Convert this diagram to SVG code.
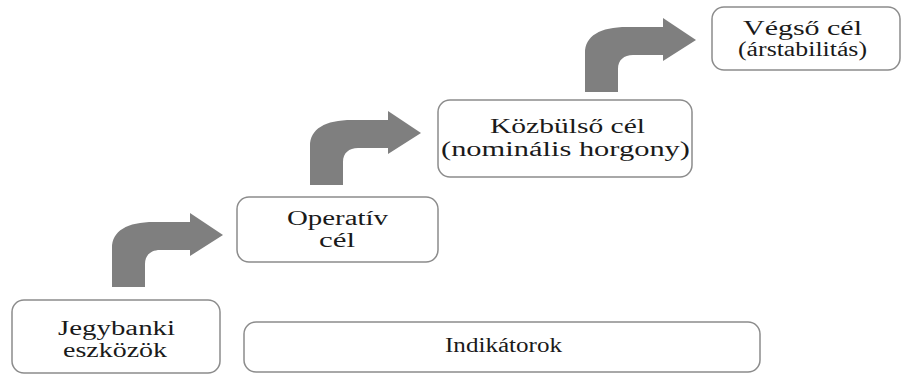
<svg xmlns="http://www.w3.org/2000/svg" width="903" height="376" viewBox="0 0 903 376">
<style>
.box{fill:#fff;stroke:#8c8c8c;stroke-width:1.5}
.t{font-family:"Liberation Serif","Times New Roman",serif;font-size:20px;fill:#1a1a1a}
.arr{fill:#7f7f7f}
</style>
<defs>
<path id="bent" d="M112,287 V248 C112,231 127,222 154,222 H190 V213 L223,235 L190,256 V250 H160 C151,250 145,255 145,264 V287 Z"/>
</defs>
<rect width="903" height="376" fill="#fff"/>
<g id="connectors" class="arr">
<use href="#bent"/>
<use href="#bent" transform="translate(198,-102)"/>
<use href="#bent" transform="translate(473,-195)"/>
</g>
<g id="jegybanki">
<rect class="box" x="12" y="300" width="208" height="73" rx="12"/>
<text class="t" x="58" y="335" textLength="117" lengthAdjust="spacingAndGlyphs">Jegybanki</text>
<text class="t" x="63" y="357" textLength="104" lengthAdjust="spacingAndGlyphs">eszközök</text>
</g>
<g id="operativ">
<rect class="box" x="237" y="197" width="201" height="65" rx="12"/>
<text class="t" x="287" y="225" textLength="101" lengthAdjust="spacingAndGlyphs">Operatív</text>
<text class="t" x="319" y="247" textLength="36" lengthAdjust="spacingAndGlyphs">cél</text>
</g>
<g id="kozbulso">
<rect class="box" x="438" y="100" width="254" height="77" rx="12"/>
<text class="t" x="490" y="133" textLength="155" lengthAdjust="spacingAndGlyphs">Közbülső cél</text>
<text class="t" x="441" y="156" textLength="249" lengthAdjust="spacingAndGlyphs">(nominális horgony)</text>
</g>
<g id="vegso">
<rect class="box" x="712" y="7" width="188" height="63" rx="12"/>
<text class="t" x="743" y="35" textLength="119" lengthAdjust="spacingAndGlyphs">Végső cél</text>
<text class="t" x="738" y="56" textLength="129" lengthAdjust="spacingAndGlyphs">(árstabilitás)</text>
</g>
<g id="indikatorok">
<rect class="box" x="244" y="322" width="516" height="50" rx="12"/>
<text class="t" x="445" y="352" textLength="117" lengthAdjust="spacingAndGlyphs">Indikátorok</text>
</g>
</svg>
